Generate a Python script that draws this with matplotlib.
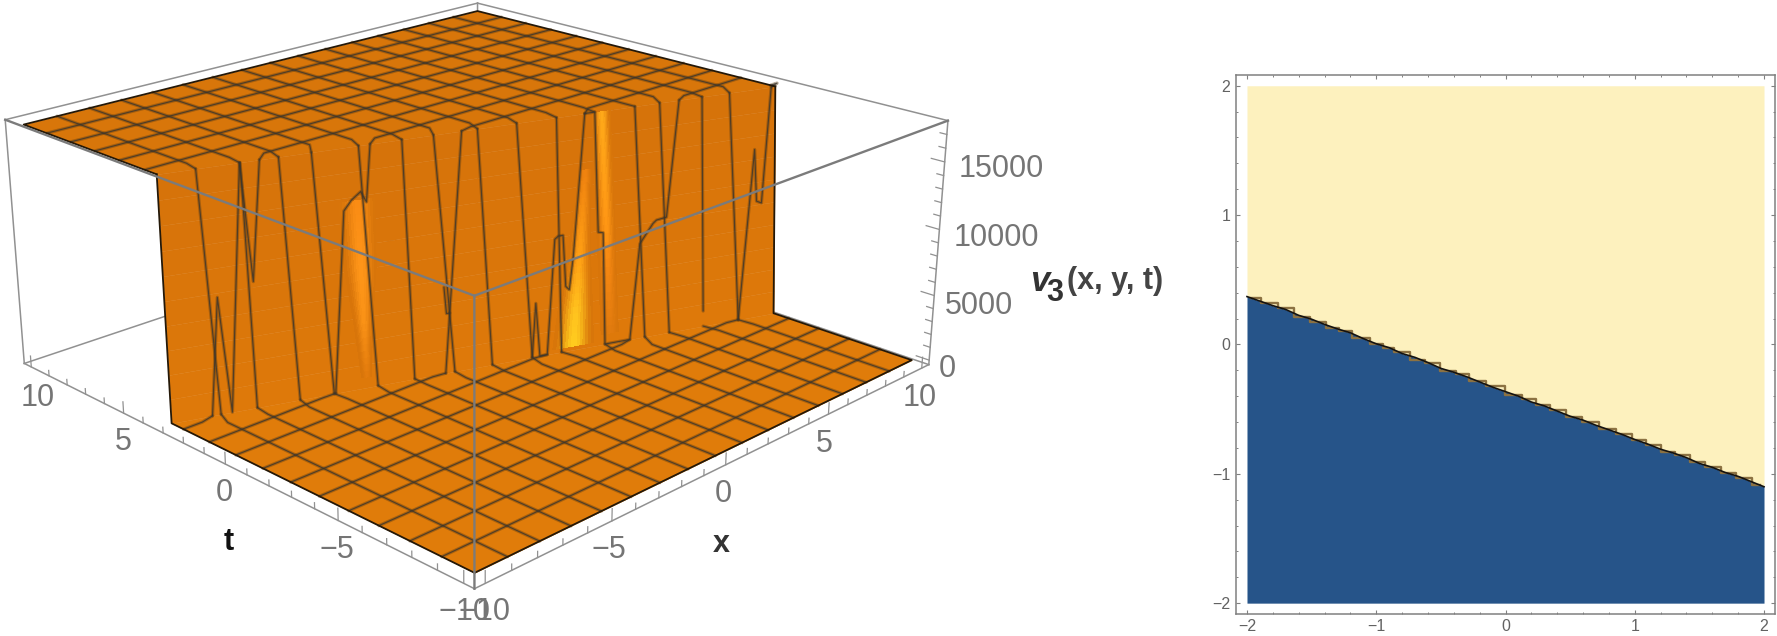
# 3D surface of v3(x, y, t) on the left, contour panel on the right
import numpy as np
import matplotlib
matplotlib.use("Agg")
import matplotlib.pyplot as plt
from matplotlib.ticker import FixedLocator
from mpl_toolkits.mplot3d.art3d import Poly3DCollection

plt.rcParams['font.family'] = ['Liberation Sans', 'DejaVu Sans']

W, H = 1777, 636

# ── surface data ─────────────────────────────────────────────
z_top = 17650
edge_x = [-10, 10]
cliff_t_top = [3.17, -3.95]
cliff_t_bot = [3.09, -4.35]

mesh_vals = [-8.75, -7.5, -6.25, -5, -3.75, -2.5, -1.25, 0, 1.25, 2.5, 3.75, 5, 6.25, 7.5, 8.75]

# where each mesh line meets the cliff
top_x_end = [-8.88, -7.6, -6.44, -5.45, -4.01, -2.66, -1.66, -0.25, 1.03, 2.35, 3.64, 5.01, 5.87, 7.36, 8.34]
bot_x_end = [-8.52, -7.42, -6.10, -5.04, -3.65, -2.47, -1.16, 0.08, 1.42, 2.42, 3.92, 5.32, 6.19, 7.41, 8.69]
top_t_vals = [2.5, 1.25, 0, -1.25, -2.5, -3.75]
top_t_end = [-7.01, -3.65, -0.76, 3.30, 6.55, 9.85]
bot_t_vals = [2.5, 1.25, 0, -1.25, -2.5, -3.75]
bot_t_end = [-8.78, -4.99, -1.46, 1.93, 4.79, 8.69]
top_t_full = [8.75, 7.5, 6.25, 5, 3.75]
bot_t_full = [-5, -6.25, -7.5, -8.75]

# mesh lines running down the cliff, (x, z in thousands)
wall_lines = [
    [(-8.88, 17.65), (-8.52, 0)],
    [(-8.78, 0), (-8.45, 8.5), (-8.18, 0), (-7.6, 17.65)],
    [(-7.6, 17.65), (-7.36, 9.2), (-7.01, 17.65)],
    [(-7.58, 17.65), (-7.42, 0)],
    [(-6.44, 17.65), (-6.10, 0)],
    [(-5.45, 17.65), (-5.04, 0)],
    [(-4.01, 17.65), (-3.65, 0)],
    [(-4.99, 0), (-4.53, 13.2), (-4.28, 13.9), (-3.99, 14.4), (-3.82, 13.6), (-3.65, 17.65)],
    [(-2.66, 17.65), (-2.47, 0)],
    [(-1.66, 17.65), (-1.16, 0)],
    [(-0.76, 17.65), (-1.46, 0)],
    [(-1.45, 6.5), (-1.39, 4.5), (-1.28, 4.5)],
    [(-0.25, 17.65), (0.08, 0)],
    [(1.03, 17.65), (1.42, 0)],
    [(1.42, 0), (1.57, 4.1), (1.68, 0), (1.93, 0), (2.24, 8.7), (2.36, 8.9), (2.52, 8.9),
     (2.59, 5.0), (2.71, 4.7), (2.86, 7.2), (3.30, 17.65)],
    [(3.30, 17.65), (3.64, 17.65), (3.72, 8.7), (3.89, 8.6), (3.92, 0), (4.23, 0), (4.79, 0),
     (5.16, 7.3), (5.63, 8.7), (5.75, 8.9), (6.10, 9.0), (6.55, 17.65)],
    [(2.35, 17.65), (2.42, 0)],
    [(5.01, 17.65), (5.32, 0)],
    [(5.87, 17.65), (6.19, 0)],
    [(7.36, 17.65), (7.41, 1.2)],
    [(8.34, 17.65), (8.69, 0)],
    [(8.69, 0), (9.26, 13.1), (9.34, 9.1), (9.52, 8.9), (9.85, 17.65)],
]

# bright streaks on the cliff: centre x, width, colour, all over z (thousands)
streak_a_z = [0.8, 5, 9, 13.8]
streak_a_x = [-4.01, -4.05, -4.08, -4.12]
streak_a_w = [0.15, 0.3, 0.5, 0.55]
streak_a_c = [(226, 122, 12), (250, 146, 22), (255, 150, 25), (250, 140, 20)]

streak_b_z = [0.3, 3, 7, 13.5]
streak_b_x = [2.82, 2.9, 3.05, 3.28]
streak_b_w = [0.7, 0.6, 0.4, 0.22]
streak_b_c = [(255, 205, 30), (255, 195, 30), (255, 160, 20), (240, 130, 15)]

streak_c_z = [0.8, 6, 9, 17.6]
streak_c_x = [4.09, 4.02, 3.98, 3.86]
streak_c_w = [0.3, 0.3, 0.32, 0.3]
streak_c_c = [(224, 122, 14), (245, 135, 18), (255, 150, 20), (255, 170, 25)]

# ticks
t_major = [-10, -5, 0, 5, 10]
x_major = [-10, -5, 0, 5, 10]
minor_vals = np.arange(-10, 11)
z_major = [0, 5000, 10000, 15000]
z_minor = np.arange(0, 18000, 1000)

# ── contour panel data ───────────────────────────────────────
line_x = np.round(np.arange(-2, 2.01, 0.1), 1)
line_y = [0.37, 0.335, 0.30, 0.27, 0.225, 0.195, 0.155, 0.12, 0.09, 0.045, 0.005,
          -0.025, -0.07, -0.10, -0.14, -0.185, -0.215, -0.25, -0.29, -0.33, -0.365,
          -0.40, -0.445, -0.475, -0.515, -0.555, -0.585, -0.625, -0.66, -0.695, -0.735,
          -0.77, -0.81, -0.84, -0.875, -0.92, -0.95, -0.99, -1.02, -1.06, -1.10]
# uneven brown fringe along the contour
fringe_x = [-1.97, -1.82, -1.70, -1.58, -1.44, -1.33, -1.25, -1.12, -0.98, -0.92, -0.81, -0.67, -0.58, -0.43,
            -0.34, -0.22, -0.08, 0.07, 0.19, 0.28, 0.41, 0.53, 0.66, 0.78, 0.93, 1.02, 1.15, 1.26, 1.37,
            1.48, 1.61, 1.72, 1.85, 1.97]
fringe_y = [0.359, 0.317, 0.28, 0.216, 0.176, 0.124, 0.104, 0.047, 0.007, -0.027, -0.055, -0.119, -0.14, -0.207,
            -0.228, -0.284, -0.324, -0.391, -0.423, -0.468, -0.504, -0.56, -0.596, -0.652, -0.695, -0.74,
            -0.776, -0.828, -0.856, -0.909, -0.945, -0.997, -1.033, -1.09]
panel_ticks = [-2, -1, 0, 1, 2]
panel_minor = [-1.8, -1.6, -1.4, -1.2, -0.8, -0.6, -0.4, -0.2, 0.2, 0.4, 0.6, 0.8, 1.2, 1.4, 1.6, 1.8]


def t_high(x):
    return np.interp(x, edge_x, cliff_t_top)


def t_low(x):
    return np.interp(x, edge_x, cliff_t_bot)


def wall_t(x, z):
    f = z / z_top
    return t_low(x) + (t_high(x) - t_low(x)) * f


def rgb(c):
    return tuple(v / 255 for v in c)


fig = plt.figure(figsize=(W / 100, H / 100), dpi=100, facecolor='white')

# ── 3D surface ───────────────────────────────────────────────
a = 10.4
z_lo, z_hi = -350, 18000
ax = fig.add_axes([-1.92 / W, -86.8 / H, 931.2 / W, 931.2 / H], projection='3d', computed_zorder=False)
ax.set_autoscale_on(False)
ax.set_xlim(-a, a)
ax.set_ylim(-a, a)
ax.set_zlim(z_lo, z_hi)
ax.view_init(20.534, -134.814)
ax.set_proj_type('persp', focal_length=0.4383)
ax.set_box_aspect((1, 1, 0.3987))
ax.set_axis_off()
ax.patch.set_visible(False)

GREY = '#919191'
GREY_FRONT = '#7b7b7b'


def box_line(p, q, color=GREY, lw=1.1, zorder=1):
    ax.plot([p[0], q[0]], [p[1], q[1]], [p[2], q[2]], color=color, lw=lw, zorder=zorder, clip_on=False)


# edges behind the surface
box_line((-a, a, z_lo), (a, a, z_lo))
box_line((a, -a, z_lo), (a, a, z_lo))
box_line((a, a, z_lo), (a, a, z_hi))
box_line((-a, a, z_hi), (a, a, z_hi))
box_line((a, -a, z_hi), (a, a, z_hi))
box_line((-a, a, z_lo), (-a, a, z_hi))
box_line((a, -a, z_lo), (a, -a, z_hi))
box_line((-a, -a, z_lo), (-a, a, z_lo))
box_line((-a, -a, z_lo), (a, -a, z_lo))

# tick marks
for v in minor_vals:
    tall = 850 if v in t_major else 420
    box_line((-a, v, z_lo), (-a, v, z_lo + tall), lw=0.9)
    box_line((v, -a, z_lo), (v, -a, z_lo + tall), lw=0.9)
for z in z_minor:
    long = 0.5 if z in z_major else 0.25
    box_line((a, -a, z), (a, -a + long, z), lw=0.9)


def add_poly(verts, color, zorder):
    pc = Poly3DCollection(verts, facecolors=color, edgecolors=color, linewidths=0.3, zorder=zorder)
    ax.add_collection3d(pc, autolim=False)
    return pc


# plateaus and cliff
top_poly = [(-10, 10, z_top), (10, 10, z_top), (10, t_high(10), z_top), (-10, t_high(-10), z_top)]
bot_poly = [(-10, -10, 0), (10, -10, 0), (10, t_low(10), 0), (-10, t_low(-10), 0)]
add_poly([top_poly], rgb((216, 118, 10)), 2)
add_poly([bot_poly], rgb((224, 124, 10)), 2)

z_bands = np.linspace(0, z_top, 11)
for i in range(10):
    z0, z1 = z_bands[i], z_bands[i + 1]
    k = i / 9
    col = rgb((222 - 8 * k, 121 - 6 * k, 10))
    add_poly([[(-10, wall_t(-10, z0), z0), (10, wall_t(10, z0), z0),
               (10, wall_t(10, z1), z1), (-10, wall_t(-10, z1), z1)]], col, 3)


# streaks, drawn as small coloured quads over the cliff
def add_streak(zs, xs, ws, cs, z_cells=26, x_cells=14):
    base = np.array((216, 117, 10), float)
    cs = np.array(cs, float)
    z_edges = np.linspace(zs[0], zs[-1], z_cells + 1)
    verts, cols = [], []
    for j in range(z_cells):
        z0, z1 = z_edges[j], z_edges[j + 1]
        zm = (z0 + z1) / 2
        peak = np.array([np.interp(zm, zs, cs[:, c]) for c in range(3)])
        for i in range(x_cells):
            u0, u1 = -1 + 2 * i / x_cells, -1 + 2 * (i + 1) / x_cells
            um = (u0 + u1) / 2
            prof = np.cos(um * np.pi / 2) ** 2
            pts = []
            for u, z in ((u0, z0), (u1, z0), (u1, z1), (u0, z1)):
                cx = np.interp(z, zs, xs)
                w = np.interp(z, zs, ws)
                x = cx + u * w
                pts.append((x, wall_t(x, z * 1000), z * 1000))
            verts.append(pts)
            cols.append(tuple((base + (peak - base) * prof) / 255))
    pc = Poly3DCollection(verts, facecolors=cols, edgecolors='none', linewidths=0, zorder=4)
    pc.set_antialiased(False)
    ax.add_collection3d(pc, autolim=False)


add_streak(streak_a_z, streak_a_x, streak_a_w, streak_a_c)
add_streak(streak_b_z, streak_b_x, streak_b_w, streak_b_c)
add_streak(streak_c_z, streak_c_x, streak_c_w, streak_c_c)


# mesh lines: a soft brown halo with a dark core, the source image is blurred
def mesh_line(xs, ts, zs):
    ax.plot(xs, ts, zs, color='#5c3c12', lw=2.4, alpha=0.4, zorder=5, clip_on=False, solid_capstyle='round')
    ax.plot(xs, ts, zs, color='#3a352e', lw=0.85, alpha=0.8, zorder=6, clip_on=False, solid_capstyle='round')


for xk, xe in zip(mesh_vals, top_x_end):
    te = t_high(xe)
    mesh_line([xk, xk, xe], [10, te + 0.6, te], [z_top] * 3)
for xk, xe in zip(mesh_vals, bot_x_end):
    te = t_low(xe)
    mesh_line([xk, xk, xe], [-10, te - 0.6, te], [0] * 3)
for tj, xe in zip(top_t_vals, top_t_end):
    mesh_line([10, xe + 0.5, xe], [tj, tj, t_high(xe)], [z_top] * 3)
for tj, xe in zip(bot_t_vals, bot_t_end):
    mesh_line([-10, xe - 0.5, xe], [tj, tj, t_low(xe)], [0] * 3)
for tj in top_t_full:
    mesh_line([-10, 10], [tj, tj], [z_top] * 2)
for tj in bot_t_full:
    mesh_line([-10, 10], [tj, tj], [0] * 2)

for pts in wall_lines:
    xs = np.array([p[0] for p in pts])
    zs = np.array([p[1] for p in pts]) * 1000
    mesh_line(xs, wall_t(xs, zs), zs)

# dark outline of the sheet
outline = [
    [(-10, t_high(-10), z_top), (-10, 10, z_top), (10, 10, z_top), (10, t_high(10), z_top)],
    [(-10, t_high(-10), z_top), (-10, t_low(-10), 0), (-10, -10, 0), (10, -10, 0), (10, t_low(10), 0),
     (10, t_high(10), z_top)],
]
for pts in outline:
    ax.plot(*zip(*pts), color='#241808', lw=1.3, zorder=7, clip_on=False)

# edges in front of the surface
for q in [(-a, a, z_hi), (a, -a, z_hi), (-a, -a, z_lo)]:
    box_line((-a, -a, z_hi), q, color=GREY_FRONT, lw=1.7, zorder=8)


# tick labels, placed in image pixels
def label(px, py, s, color='#757575', size=22, **kw):
    kw.setdefault('ha', 'center')
    fig.text(px / W, 1 - py / H, s, color=color, fontsize=size, va='center', **kw)


t_label_pos = [(464, 612), (337, 550), (224.6, 493), (123.6, 442), (38, 398)]
x_label_pos = [(485, 612), (609, 550), (723, 494), (824, 444.5), (920, 398)]
z_label_pos = [(947, 369), (978.6, 305.7), (996.4, 238), (1001, 169)]
for v, (px, py) in zip(t_major, t_label_pos):
    label(px, py, str(v).replace('-', '\u2212'))
for v, (px, py) in zip(x_major, x_label_pos):
    label(px, py, str(v).replace('-', '\u2212'))
for v, (px, py) in zip(z_major, z_label_pos):
    label(px, py, str(v))

label(228.5, 542.5, 't', color='#111111', size=22, weight='bold')
label(721, 544.5, 'x', color='#333333', size=22, weight='bold')
label(1040, 281, 'v', color='#333333', size=25, weight='bold', style='italic')
label(1055, 293, '3', color='#333333', size=22, weight='bold')
label(1067, 281, '(x, y, t)', color='#444444', size=22, weight='bold', ha='left')

# ── contour panel ────────────────────────────────────────────
ax2 = fig.add_axes([1236 / W, (H - 613.5) / H, 539 / W, 538.1 / H])
ax2.fill_between(line_x, -2, line_y, color='#265489', lw=0)
ax2.fill_between(line_x, line_y, 2, color='#FDF1BE', lw=0)
ax2.plot(fringe_x, fringe_y, color='#8c7242', lw=1.7, drawstyle='steps-mid')
ax2.plot(line_x, line_y, color='#141210', lw=1.2)
ax2.set_xlim(-2.085, 2.085)
ax2.set_ylim(-2.08, 2.08)
ax2.set_xticks(panel_ticks)
ax2.set_yticks(panel_ticks)
ax2.xaxis.set_minor_locator(FixedLocator(panel_minor))
ax2.yaxis.set_minor_locator(FixedLocator(panel_minor))
ax2.tick_params(which='major', direction='in', top=True, right=True, length=3, width=0.8,
                color='#808080', labelcolor='#626262', labelsize=11.5, pad=4)
ax2.tick_params(which='minor', direction='in', top=True, right=True, length=1.6, width=0.7, color='#808080')
for sp in ax2.spines.values():
    sp.set_color('#808080')
    sp.set_linewidth(1.1)

fig.savefig("out.png", dpi=100)
